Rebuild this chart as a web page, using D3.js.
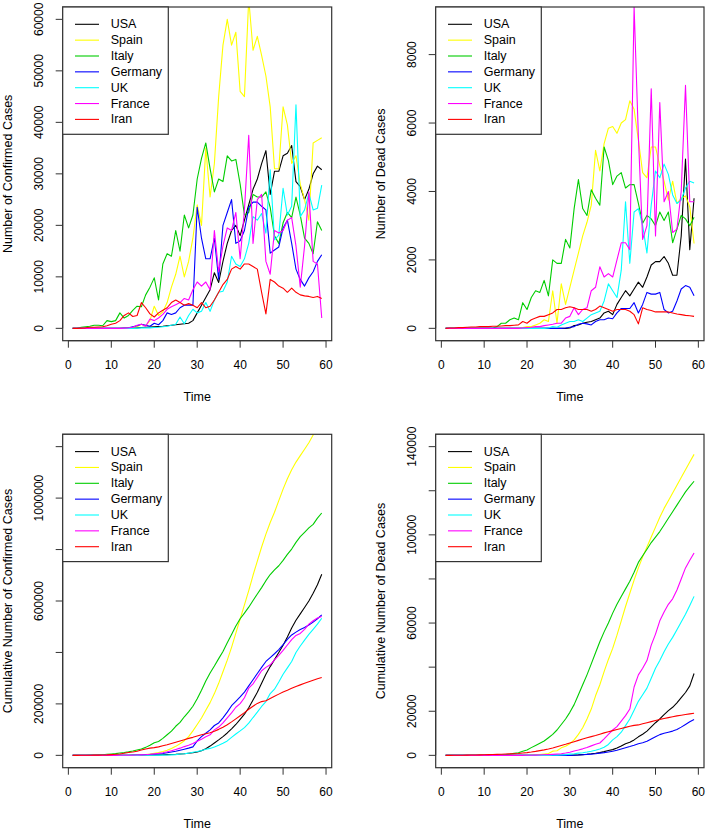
<!DOCTYPE html>
<html><head><meta charset="utf-8">
<script src="https://cdn.jsdelivr.net/npm/d3@7"></script>
<style>
body{margin:0;background:#fff}
svg{display:block}
text{font-family:"Liberation Sans",Arial,sans-serif;fill:#000}
</style>
</head><body>
<svg id="chart" width="708" height="831"></svg>
<script>
// ---------------- data ----------------
const days = d3.range(1, 60); // 1..59
const countries = ["USA","Spain","Italy","Germany","UK","France","Iran"];
const colors = ["#000000","#FFFF00","#00CD00","#0000FF","#00FFFF","#FF00FF","#FF0000"];

// daily confirmed cases
const confUSA = [0,0,0,0,10,10,10,10,20,20, 30,30,40,50,100,100,150,200,250,300, 350,400,500,600,700,800,900,1000,1500,3000, 4500,6000,7500,10800,8900,13000,16500,19000,20000,18000, 21000,24000,27000,29000,32000,34500,26000,30500,30500,33500, 34000,35500,28500,27500,25000,27000,30000,31500,30800];
const confSpain = [0,0,0,0,0,0,0,0,0,0, 0,0,50,100,200,300,800,500,1500,4300, 2500,3200,5000,8000,10500,14000,10000,13000,17500,24000, 20000,35000,25500,32000,45000,55000,60000,55000,57500,46000, 45000,64000,54000,56700,53000,49000,43000,31000,31000,43000, 39500,32000,33500,28000,25000,21000,36000,36500,37000];
const confItaly = [0,0,200,300,400,600,600,500,1500,1300, 1500,3000,2000,2500,3500,4300,4200,6500,8000,9800, 5500,12500,14500,14000,19000,15000,22000,19500,22000,29000, 33000,36000,31000,26500,29000,28500,33500,32500,32800,28000, 22000,22500,26000,25500,25500,26500,23500,18000,16500,20500, 22500,21500,25500,22000,17500,16500,14500,20700,19000];
const confGermany = [0,0,0,0,0,0,0,0,0,0, 0,0,50,100,300,500,800,600,400,1000, 700,1500,3000,2700,3000,4000,4500,4500,4500,23500, 17500,13500,13500,17500,9500,20000,22500,25000,16500,17000, 19000,23500,24500,24500,23700,23000,14600,15200,15800,19500, 21000,16500,11500,9500,8200,9800,11000,13000,14300];
const confUK = [0,0,0,0,0,0,0,0,0,0, 0,0,0,0,0,50,100,100,100,150, 200,300,400,600,800,2200,900,2500,3700,3000, 3300,5000,3300,5500,7000,7200,9000,14000,12500,12000, 13500,16500,21700,21000,22300,18500,30800,17200,18100,27200, 22000,23700,43400,21700,23000,26200,23000,23300,27800];
const confFrance = [0,0,0,0,0,0,0,0,0,0, 0,0,50,100,200,600,800,400,1800,1500, 2000,2700,3700,4200,4600,5000,5800,5500,7500,9000, 8200,9000,7500,19000,11000,16000,19500,19000,22500,13500, 23000,37500,16500,25000,26000,13000,10500,19000,18500,19000, 21000,21500,16000,8000,16000,26500,13000,12500,2000];
const confIran = [0,0,50,100,200,200,250,300,500,800, 1000,1500,2500,3000,2300,2500,5000,4000,2800,2200, 3000,3500,4000,5000,5500,5000,4500,4800,4500,4000, 5000,4000,4300,5500,7000,8500,9500,11500,12000,11500, 12500,12500,12000,11500,7000,2800,9500,9000,8200,7800, 7000,7800,7000,6500,6300,6200,6000,6200,5800];

// daily deaths
const deadUSA = [0,0,0,0,0,0,0,0,0,0, 0,0,0,0,0,0,0,0,0,0, 0,0,0,0,0,0,0,0,0,10, 80,100,150,180,200,250,300,450,500,400, 700,900,1100,950,1150,1350,1200,1500,1850,1950, 1950,2100,1900,1550,1550,2700,4950,2300,3800];
const deadSpain = [0,0,0,0,0,0,0,0,0,0, 0,0,0,0,0,0,0,10,20,50, 50,100,150,250,200,1100,150,1300,700,1200, 1700,2200,2700,3100,3600,5200,4600,5400,5850,5900, 5700,6000,6100,6650,6400,5500,4550,4400,5300,5300, 4750,4300,3750,4300,3650,3800,3870,3550,2480];
const deadItaly = [0,0,0,0,0,0,0,0,0,0, 0,0,50,150,150,250,300,250,750,550, 900,1100,1050,1400,950,2000,1900,1900,2600,2350, 3500,4350,3500,3300,4050,3800,3600,5300,4900,4200, 4450,4550,4100,4200,4200,3650,3070,3300,3200,3000, 3400,3150,3400,2500,2900,3300,3200,3000,3250];
const deadGermany = [0,0,0,0,0,0,0,0,0,0, 0,0,0,0,0,0,0,0,0,0, 0,0,0,0,0,0,0,0,10,30, 50,120,150,130,100,200,250,250,300,280, 450,580,580,580,750,450,700,1050,1000,1000, 1050,550,450,500,800,1150,1250,1200,950];
const deadUK = [0,0,0,0,0,0,0,0,0,0, 0,0,0,0,0,0,0,0,0,0, 0,0,0,0,10,50,30,100,150,200, 200,250,200,300,400,450,500,800,1300,1100, 900,1700,3700,1900,3400,3500,3000,2200,3600,4600, 4400,4800,4500,3900,3650,3750,4100,4300,4250];
const deadFrance = [0,0,0,0,0,0,0,0,0,0, 0,0,0,0,0,0,0,0,10,20, 30,50,50,80,100,120,150,150,300,350, 600,400,550,600,1100,1200,1800,1500,1600,1500, 2000,2500,2500,2300,9400,5600,2600,3000,7000,2700, 6600,3700,4000,2800,2900,4000,7100,3700,3700];
const deadIran = [0,10,10,20,20,30,40,40,50,50, 50,60,60,70,80,80,90,100,200,150, 250,300,350,350,400,450,550,550,600,630, 600,550,550,550,500,550,650,600,550,500, 550,550,550,500,400,130,600,550,520,480, 480,480,480,450,420,400,380,370,350];

// cumulative confirmed cases
const cumConfUSA = [0,0,0,0,0,0,0,0,0,0, 100,200,300,400,500,700,900,1100,1400,1700, 2000,2500,3000,3500,4000,5000,6000,8000,10000,13000, 18000,26000,36000,48000,60000,73000,87000,103000,120000,140000, 160000,185000,215000,245000,280000,315000,345000,372000,400000,428000, 460000,495000,525000,550000,575000,600000,630000,663000,704000];
const cumConfSpain = [0,0,0,0,0,0,0,0,0,0, 100,200,300,500,700,1000,2000,3000,5000,8000, 11000,15000,20000,27000,35000,45000,57000,73000,95000,120000, 145000,175000,205000,240000,280000,325000,370000,420000,475000,530000, 585000,640000,700000,755000,810000,860000,905000,945000,990000,1035000, 1075000,1110000,1140000,1165000,1190000,1215000,1245000,1280000,1315000];
const cumConfItaly = [0,0,200,500,900,1500,2100,2600,4000,5300, 6800,9000,11000,13500,17000,21000,25000,31000,39000,49000, 54000,66000,80000,94000,113000,128000,150000,169000,191000,220000, 253000,289000,320000,347000,376000,404000,438000,470000,503000,531000, 553000,576000,602000,627000,652000,679000,703000,721000,737000,758000, 781000,802000,828000,850000,867000,884000,898000,922000,942000];
const cumConfGermany = [0,0,0,0,0,0,0,0,0,0, 100,200,300,500,800,1200,2000,2800,3500,4500, 5500,7000,10000,13000,16000,20000,24000,28000,33000,56000, 73000,86000,99000,116000,126000,146000,168000,193000,210000,227000, 246000,270000,294000,318000,342000,365000,380000,395000,411000,430000, 451000,468000,479000,489000,497000,507000,518000,531000,546000];
const cumConfUK = [0,0,0,0,0,0,0,0,0,0, 0,0,0,0,0,100,200,300,400,500, 700,1000,1400,2000,2800,5000,6000,8500,12000,15000, 18500,23500,27000,32500,39500,47000,56000,70000,83000,95000, 108000,125000,147000,168000,190000,209000,240000,257000,285000,315000, 340000,365000,400000,425000,448000,470000,490000,510000,533000];
const cumConfFrance = [0,0,0,0,0,0,0,0,0,0, 100,200,300,400,600,1200,2000,2400,4200,5700, 7700,10400,14000,18000,23000,28000,34000,39000,46000,55000, 63000,72000,80000,99000,110000,126000,146000,165000,187000,201000, 224000,261000,278000,303000,329000,342000,352000,371000,389000,408000, 429000,450000,466000,474000,490000,510000,523000,534000,540000];
const cumConfIran = [0,100,200,300,500,800,1000,1500,2000,3000, 4000,5500,8000,11000,13000,16000,21000,25000,28000,30000, 33000,37000,41000,46000,51000,56000,61000,66000,70000,75000, 80000,84000,88000,94000,101000,109000,119000,130000,142000,154000, 166000,179000,191000,202000,209000,212000,221000,230000,238000,246000, 253000,261000,268000,274000,280000,286000,292000,298000,303000];

// cumulative deaths
const cumDeadUSA = [0,0,0,0,0,0,0,0,0,0, 0,0,0,0,0,0,0,0,0,0, 0,0,0,0,0,0,0,0,0,0, 100,200,350,500,700,950,1250,1700,2200,2600, 3300,4200,5300,5900,7000,8400,9600,11000,12900,14800, 16500,18500,20300,21800,23800,26200,28500,31500,37100];
const cumDeadSpain = [0,0,0,0,0,0,0,0,0,0, 0,0,0,0,0,0,0,10,30,80, 130,230,380,630,830,1900,2100,3400,4100,5300, 7000,9500,12500,16500,21000,27000,32000,38000,43500,48500, 54500,61000,67500,73500,79500,85000,90000,94500,99000,103500, 108000,112000,115500,119000,122500,126000,129500,133000,136500];
const cumDeadItaly = [0,0,0,0,0,0,0,0,0,0, 0,0,50,200,350,600,900,1150,1900,2450, 3500,4500,5500,6500,8000,9500,11500,14000,16500,19500, 23000,27500,32000,36500,41500,46500,51500,56000,60000,64500, 68500,72000,75500,79000,83000,87500,90500,93500,96500,99000, 101500,104500,107500,110500,113500,116500,119500,122000,124300];
const cumDeadGermany = [0,0,0,0,0,0,0,0,0,0, 0,0,0,0,0,0,0,0,0,0, 0,0,0,0,0,0,0,0,0,0, 50,150,300,450,550,750,1000,1250,1550,1850, 2300,2900,3450,4000,4600,5300,5700,6400,7400,8400, 9400,10000,10500,11000,11700,12800,14000,15200,16300];
const cumDeadUK = [0,0,0,0,0,0,0,0,0,0, 0,0,0,0,0,0,0,0,0,0, 0,0,0,0,10,60,90,190,340,540, 740,990,1190,1490,1890,2340,2840,3640,4940,7000, 8500,10500,13500,16500,20500,24500,27500,30500,35000,39500, 43000,47000,50500,53500,57000,60500,64000,68000,72100];
const cumDeadFrance = [0,0,0,0,0,0,0,0,0,0, 0,0,0,0,0,0,0,0,10,30, 60,110,160,240,340,460,610,760,1060,1410, 2000,2400,2950,3550,4300,5000,5600,7500,9500,11500, 13000,15500,18000,21000,31000,36500,39500,43000,50000,55000, 61000,65000,68500,71000,75000,80000,85000,88500,91800];
const cumDeadIran = [0,10,20,40,60,90,130,170,220,270, 320,380,440,510,590,670,760,860,1060,1250, 1500,1800,2150,2500,2900,3350,3900,4450,5000,5600, 6200,6800,7400,8000,8500,9000,9600,10200,10700,11200, 11700,12200,12700,13200,13600,13800,14300,14800,15300,15800, 16300,16700,17100,17500,17900,18200,18500,18800,19100];

// tick values
const xTicks = [0,10,20,30,40,50,60];
const yTicksConf = [0,10000,20000,30000,40000,50000,60000];
const yTicksDead = [0,2000,4000,6000,8000];
const yTicksCumConf = [0,200000,400000,600000,800000,1000000,1200000];
const yLabelsCumConf = [0,200000,600000,1000000];
const yTicksCumDead = [0,20000,40000,60000,80000,100000,120000,140000];
const yLabelsCumDead = [0,20000,60000,100000,140000];

// ---------------- drawing ----------------
const svg = d3.select("#chart");

const panels = [
  {series:[confUSA,confSpain,confItaly,confGermany,confUK,confFrance,confIran],
   ylim:60000, ticks:yTicksConf, labels:yTicksConf, ytitle:"Number of Confirmed Cases",
   left:62.7, right:331.7, top:7, bottom:340.7},
  {series:[deadUSA,deadSpain,deadItaly,deadGermany,deadUK,deadFrance,deadIran],
   ylim:9030, ticks:yTicksDead, labels:yTicksDead, ytitle:"Number of Dead Cases",
   left:435.7, right:704, top:7, bottom:340.7},
  {series:[cumConfUSA,cumConfSpain,cumConfItaly,cumConfGermany,cumConfUK,cumConfFrance,cumConfIran],
   ylim:1200000, ticks:yTicksCumConf, labels:yLabelsCumConf, ytitle:"Cumulative Number of Confirmed Cases",
   left:62.7, right:331.7, top:434.3, bottom:767.7},
  {series:[cumDeadUSA,cumDeadSpain,cumDeadItaly,cumDeadGermany,cumDeadUK,cumDeadFrance,cumDeadIran],
   ylim:140000, ticks:yTicksCumDead, labels:yLabelsCumDead, ytitle:"Cumulative Number of Dead Cases",
   left:435.7, right:704, top:434.3, bottom:767.7}
];

const FS_TICK = 12, FS_LAB = 12.5;
const AX = "#333";

panels.forEach((p, pi) => {
  const g = svg.append("g");
  const x = d3.scaleLinear().domain([1 - 0.04*58, 59 + 0.04*58]).range([p.left, p.right]);
  const y = d3.scaleLinear().domain([-0.04*p.ylim, 1.04*p.ylim]).range([p.bottom, p.top]);

  const clipId = "clip" + pi;
  g.append("clipPath").attr("id", clipId).append("rect")
    .attr("x", p.left).attr("y", p.top).attr("width", p.right - p.left).attr("height", p.bottom - p.top);

  const line = d3.line().x((d, i) => x(days[i])).y(d => y(d));
  const lg = g.append("g").attr("clip-path", `url(#${clipId})`);
  p.series.forEach((s, si) => {
    lg.append("path").attr("d", line(s)).attr("fill", "none")
      .attr("stroke", colors[si]).attr("stroke-width", 1.1).attr("stroke-linejoin", "round");
  });

  // box
  g.append("rect").attr("x", p.left).attr("y", p.top)
    .attr("width", p.right - p.left).attr("height", p.bottom - p.top)
    .attr("fill", "none").attr("stroke", AX).attr("stroke-width", 1.2);

  // x axis (R style: line from first to last tick, ticks outward)
  const xa = g.append("g");
  xa.append("line").attr("x1", x(xTicks[0])).attr("x2", x(xTicks[xTicks.length - 1]))
    .attr("y1", p.bottom).attr("y2", p.bottom).attr("stroke", AX);
  xa.selectAll("line.t").data(xTicks).enter().append("line").attr("class", "t")
    .attr("x1", d => x(d)).attr("x2", d => x(d)).attr("y1", p.bottom).attr("y2", p.bottom + 7).attr("stroke", AX);
  xa.selectAll("text").data(xTicks).enter().append("text")
    .attr("x", d => x(d)).attr("y", p.bottom + 24.3)
    .attr("text-anchor", "middle").attr("dominant-baseline", "central")
    .attr("font-size", FS_TICK).text(d => d3.format("d")(d));

  // y axis (labels rotated as in R)
  const ya = g.append("g");
  ya.append("line").attr("x1", p.left).attr("x2", p.left)
    .attr("y1", y(p.ticks[0])).attr("y2", y(p.ticks[p.ticks.length - 1])).attr("stroke", AX);
  ya.selectAll("line.t").data(p.ticks).enter().append("line").attr("class", "t")
    .attr("x1", p.left).attr("x2", p.left - 7).attr("y1", d => y(d)).attr("y2", d => y(d)).attr("stroke", AX);
  ya.selectAll("text").data(p.labels).enter().append("text")
    .attr("transform", d => `translate(${p.left - 23.4},${y(d)}) rotate(-90)`)
    .attr("text-anchor", "middle").attr("dominant-baseline", "central")
    .attr("font-size", FS_TICK).text(d => d3.format("d")(d));

  // titles
  g.append("text").attr("x", (p.left + p.right) / 2).attr("y", p.bottom + 56)
    .attr("text-anchor", "middle").attr("dominant-baseline", "central")
    .attr("font-size", FS_LAB).text("Time");
  g.append("text")
    .attr("transform", `translate(${p.left - 54.4},${(p.top + p.bottom) / 2}) rotate(-90)`)
    .attr("text-anchor", "middle").attr("dominant-baseline", "central")
    .attr("font-size", FS_LAB).text(p.ytitle);

  // legend
  const L = g.append("g").attr("transform", `translate(${p.left},${p.top})`);
  L.append("rect").attr("x", 0).attr("y", 0).attr("width", 105.6).attr("height", 127.3)
    .attr("fill", "#fff").attr("stroke", AX).attr("stroke-width", 1.2);
  countries.forEach((c, i) => {
    const yy = 17.3 + i * 15.85;
    L.append("line").attr("x1", 12.3).attr("x2", 36.3).attr("y1", yy).attr("y2", yy)
      .attr("stroke", colors[i]).attr("stroke-width", 1.1);
    L.append("text").attr("x", 48).attr("y", yy).attr("dominant-baseline", "central")
      .attr("font-size", FS_LAB).text(c);
  });
});
</script>
</body></html>
